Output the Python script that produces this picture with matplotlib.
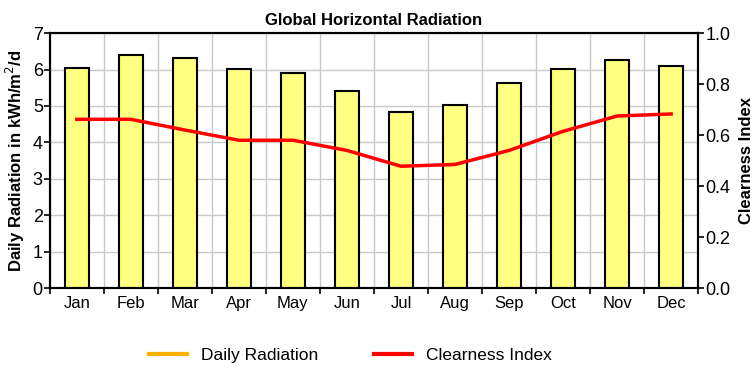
import numpy as np
import matplotlib.pyplot as plt
from matplotlib.lines import Line2D

months = ['Jan', 'Feb', 'Mar', 'Apr', 'May', 'Jun',
          'Jul', 'Aug', 'Sep', 'Oct', 'Nov', 'Dec']
daily_radiation = [6.03, 6.40, 6.32, 6.02, 5.90, 5.40,
                   4.83, 5.02, 5.64, 6.02, 6.25, 6.10]
clearness_index = [0.662, 0.662, 0.620, 0.580, 0.580, 0.540,
                   0.478, 0.485, 0.540, 0.615, 0.675, 0.683]

plt.rcParams['font.family'] = ['Liberation Sans', 'DejaVu Sans']

fig = plt.figure(figsize=(7.54, 3.68), dpi=100)
ax = fig.add_axes([0.066, 0.217, 0.86, 0.693])
x = np.arange(len(months))

ax.bar(x, daily_radiation, width=0.45, color='#ffff80',
       edgecolor='black', linewidth=1.5, zorder=3)
ax.set_xlim(-0.5, len(months) - 0.5)
ax.set_ylim(0, 7)
ax.set_yticks(range(0, 8))
ax.set_xticks(x)
ax.set_xticklabels(months)
ax.set_xticks(np.arange(-0.5, len(months)), minor=True)
ax.tick_params(axis='x', which='major', length=0, labelsize=12, pad=6)
ax.tick_params(axis='x', which='minor', length=4, width=1.2)
ax.tick_params(axis='y', labelsize=13, length=4, width=1.2, pad=1)
ax.grid(True, which='minor', axis='x', color='#c8c8c8', linewidth=1, zorder=0)
ax.grid(True, which='major', axis='y', color='#c8c8c8', linewidth=1, zorder=0)
ax.set_ylabel('Daily Radiation in kWh/m$^2$/d', fontsize=12,
              fontweight='bold', labelpad=4)
for s in ax.spines.values():
    s.set_linewidth(1.5)

ax2 = ax.twinx()
ax2.plot(x, clearness_index, color='#ff0000', linewidth=2.5, zorder=4)
ax2.set_ylim(0, 1.0)
ax2.set_yticks(np.arange(0, 1.01, 0.2))
ax2.set_yticklabels([f'{v:.1f}' for v in np.arange(0, 1.01, 0.2)])
ax2.tick_params(axis='y', labelsize=13, length=4, width=1.2, pad=1)
ax2.set_ylabel('Clearness Index', fontsize=12, fontweight='bold', labelpad=6)
for s in ax2.spines.values():
    s.set_linewidth(1.5)

ax.set_title('Global Horizontal Radiation', fontsize=12,
             fontweight='bold', pad=6)

handles = [Line2D([], [], color='#ffb000', linewidth=3),
           Line2D([], [], color='#ff0000', linewidth=3)]
fig.legend(handles, ['Daily Radiation', 'Clearness Index'],
           loc='lower center', bbox_to_anchor=(0.465, -0.03), ncol=2,
           frameon=False, fontsize=12.5, handlelength=2.2, columnspacing=3.2)

fig.savefig('out.png', dpi=100)
